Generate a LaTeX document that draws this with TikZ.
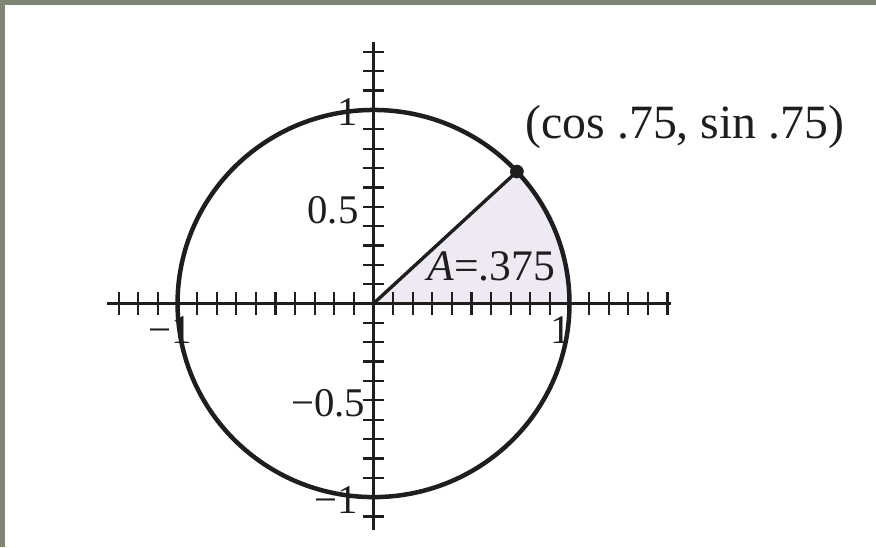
\documentclass[tikz,border=0pt]{standalone}
\usepackage{fontspec}
\setmainfont{Liberation Serif}
\usepackage{tikz}
\usetikzlibrary{positioning,calc}
\definecolor{FrameGray}{RGB}{128,134,116}
\definecolor{SectorFill}{RGB}{238,233,243}
\definecolor{InkBlack}{RGB}{30,30,30}

\begin{document}
\begin{tikzpicture}[x=4.9cm,y=4.84cm,
    ticklbl/.style={font=\fontsize{29}{34}\selectfont,text=InkBlack,inner sep=0pt},
    axisline/.style={InkBlack,line width=2pt},
    tickmark/.style={InkBlack,line width=1.6pt}]
  % page, with the grey frame on top and left
  \fill[FrameGray] (-1.906,-1.258) rectangle (2.564,1.568);
  \fill[white] (-1.880,-1.258) rectangle (2.564,1.543);
  \useasboundingbox (-1.906,-1.258) rectangle (2.564,1.568);

  \coordinate (O) at (0,0);
  \coordinate (xl) at (-1.36,0);
  \coordinate (xr) at (1.52,0);
  \coordinate (yb) at (0,-1.17);
  \coordinate (yt) at (0,1.35);
  \coordinate (E) at (1,0);
  \coordinate (P) at ({cos(0.75 r)},{sin(0.75 r)});

  % shaded sector
  \fill[SectorFill] (O) -- (E) arc[start angle=0,end angle=42.97,radius=1] -- cycle;

  % axes and ticks
  \draw[axisline] (xl) -- (xr);
  \draw[axisline] (yb) -- (yt);
  \foreach \t in {-13,...,15} {
    \draw[tickmark] (\t/10,-0.058) -- (\t/10,0.058);
  }
  \foreach \t in {-11,...,13} {
    \draw[tickmark] (-0.055,\t/10) -- (0.055,\t/10);
  }

  % unit circle and radius
  \draw[InkBlack,line width=3.2pt] (O) circle[radius=1];
  \draw[InkBlack,line width=2.4pt] (O) -- (P);
  \fill[InkBlack] (P) circle[radius=0.035];

  % labels
  \node[ticklbl] (ylone) at (-0.130,0.990) {1};
  \node[ticklbl] (ylhalf) at (-0.207,0.483) {0.5};
  \node[ticklbl] (ylmhalf) at (-0.232,-0.514) {−0.5};
  \node[ticklbl] (ylmone) at (-0.191,-1.016) {−1};
  \node[ticklbl] (xlmone) at (-1.038,-0.137) {−1};
  \node[ticklbl] (xlone) at (0.957,-0.137) {1};
  \node[font=\fontsize{31}{36}\selectfont,text=InkBlack,inner sep=0pt] (area) at (0.600,0.194) {\textit{A}=.375};
  \node[font=\fontsize{34}{40}\selectfont,text=InkBlack,inner sep=0pt] (ptlbl) at (1.589,0.912) {(cos .75, sin .75)};
\end{tikzpicture}
\end{document}
